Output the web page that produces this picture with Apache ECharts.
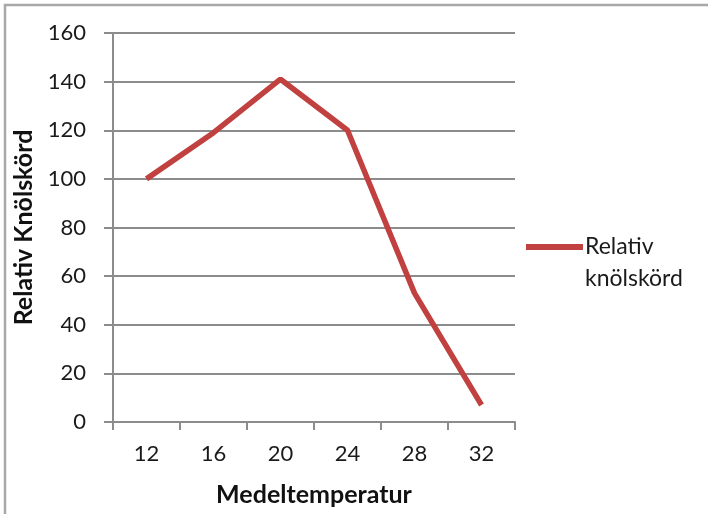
<!DOCTYPE html>
<html>
<head>
<meta charset="utf-8">
<script src="https://cdn.jsdelivr.net/npm/echarts@6/dist/echarts.min.js"></script>
<style>html,body{margin:0;padding:0;background:#fff}#c{width:708px;height:514px}</style>
</head>
<body>
<div id="c"></div>
<script>
var categories = ['12', '16', '20', '24', '28', '32'];
var values = [100, 119, 141, 120, 53, 7];
var seriesName = 'Relativ knölskörd';
var legendLabel = '\u00a0\nRelativ\nknölskörd';
var yTitle = 'Relativ Knölskörd';
var xTitle = 'Medeltemperatur';

var FONT = 'Lato';
var chart = echarts.init(document.getElementById('c'));
chart.setOption({
  backgroundColor: '#fff',
  animation: false,
  graphic: [{
    type: 'rect', shape: {x: 5, y: 5, width: 900, height: 700},
    style: {fill: 'none', stroke: '#a8a8a8', lineWidth: 2.5}, silent: true
  }],
  grid: {left: 113, right: 193, top: 33, bottom: 92, containLabel: false},
  legend: {
    show: true, left: 521, top: 194, orient: 'vertical',
    itemWidth: 57, itemHeight: 6, itemGap: 0,
    icon: 'rect',
    formatter: function () { return legendLabel; },
    textStyle: {fontFamily: FONT, fontSize: 23, color: '#1a1a1a', lineHeight: 32, padding: [0, 0, 0, -3]},
    data: [{name: seriesName, icon: 'rect'}]
  },
  xAxis: {
    type: 'category', data: categories, boundaryGap: true,
    name: xTitle, nameLocation: 'middle', nameGap: 60,
    nameTextStyle: {fontFamily: FONT, fontSize: 25, fontWeight: 'bold', color: '#111'},
    axisLine: {lineStyle: {color: '#8c8c8c', width: 2}},
    axisTick: {show: true, alignWithLabel: false, length: 8, lineStyle: {color: '#8c8c8c', width: 2}},
    axisLabel: {fontFamily: FONT, fontSize: 22, color: '#1a1a1a', margin: 21}
  },
  yAxis: {
    type: 'value', min: 0, max: 160, interval: 20,
    name: yTitle, nameLocation: 'middle', nameGap: 76, nameRotate: 90,
    nameTextStyle: {fontFamily: FONT, fontSize: 25, fontWeight: 'bold', color: '#111'},
    axisLine: {show: true, lineStyle: {color: '#8c8c8c', width: 2}},
    axisTick: {show: true, length: 9, lineStyle: {color: '#8c8c8c', width: 2}},
    axisLabel: {fontFamily: FONT, fontSize: 22, color: '#1a1a1a', margin: 27},
    splitLine: {show: true, lineStyle: {color: '#8c8c8c', width: 2}}
  },
  series: [{
    name: seriesName, type: 'line', data: values,
    symbol: 'none', smooth: false,
    lineStyle: {color: '#c0413f', width: 5.5},
    itemStyle: {color: '#c0413f'}
  }]
});
</script>
</body>
</html>
